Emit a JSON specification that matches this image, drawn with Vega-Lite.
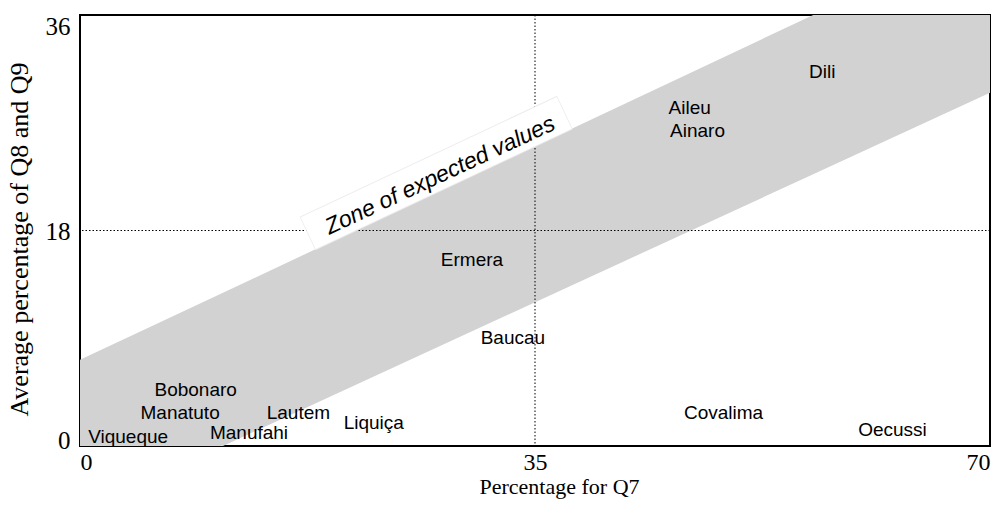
{
  "$schema": "https://vega.github.io/schema/vega-lite/v6.json",
  "autosize": "none",
  "width": 910,
  "height": 431,
  "padding": {"left": 80, "top": 15, "right": 7, "bottom": 63},
  "background": "white",
  "config": {
    "view": {"stroke": "black", "strokeWidth": 2},
    "axis": {"grid": false, "ticks": false, "domain": false, "labelFont": "Liberation Serif", "titleFont": "Liberation Serif", "labelColor": "black", "titleColor": "black", "titleFontWeight": "normal"}
  },
  "layer": [
    {
      "data": {"values": [
        {"x": 0, "lo": 0, "hi": 7.2},
        {"x": 11, "lo": 0, "hi": 12.8},
        {"x": 56.4, "lo": 22.7, "hi": 36},
        {"x": 70, "lo": 29.5, "hi": 36}
      ]},
      "mark": {"type": "area", "fill": "#d2d2d2", "opacity": 1},
      "encoding": {
        "x": {"field": "x", "type": "quantitative", "scale": {"domain": [0, 70], "nice": false, "zero": false},
          "axis": {"values": [0, 35, 70], "labelFlush": true, "labelFontSize": 24, "labelPadding": 4, "title": "Percentage for Q7", "titleFontSize": 22, "titleBaseline": "alphabetic", "titleX": 479, "titleY": 47, "titleAlign": "center"}},
        "y": {"field": "hi", "type": "quantitative", "scale": {"domain": [0, 36], "nice": false, "zero": false},
          "axis": {"values": [0, 18, 36], "labelFlush": false, "labelFontSize": 25, "labelPadding": 10, "labelBaseline": "alphabetic",
            "labelOffset": {"condition": [{"test": "datum.value == 36", "value": 19}, {"test": "datum.value == 0", "value": 2}], "value": 8.5},
            "title": "Average percentage of Q8 and Q9", "titleFontSize": 26, "titleBaseline": "alphabetic", "titleAngle": 270, "titleX": -53, "titleY": 224, "titleAlign": "center"}},
        "y2": {"field": "lo"}
      }
    },
    {
      "data": {"values": [{"v": 35}]},
      "mark": {"type": "rule", "stroke": "black", "strokeWidth": 1, "strokeDash": [1.5, 2]},
      "encoding": {"x": {"field": "v", "type": "quantitative"}}
    },
    {
      "data": {"values": [{"v": 18}]},
      "mark": {"type": "rule", "stroke": "black", "strokeWidth": 1, "strokeDash": [1.5, 2]},
      "encoding": {"y": {"field": "v", "type": "quantitative"}}
    },
    {
      "data": {"values": [{"x": 17.5, "y": 17.75}, {"x": 37.3, "y": 27.85}]},
      "mark": {"type": "line", "stroke": "#ececec", "strokeWidth": 37, "strokeCap": "butt"},
      "encoding": {"x": {"field": "x", "type": "quantitative"}, "y": {"field": "y", "type": "quantitative"}}
    },
    {
      "data": {"values": [{"x": 17.55, "y": 17.78}, {"x": 37.25, "y": 27.82}]},
      "mark": {"type": "line", "stroke": "white", "strokeWidth": 35, "strokeCap": "butt"},
      "encoding": {"x": {"field": "x", "type": "quantitative"}, "y": {"field": "y", "type": "quantitative"}}
    },
    {
      "data": {"values": [{"x": 27.7, "y": 22.6, "t": "Zone of expected values"}]},
      "mark": {"type": "text", "font": "Liberation Sans", "fontSize": 23, "fontStyle": "italic", "angle": -25, "align": "center", "baseline": "middle", "color": "black"},
      "encoding": {"x": {"field": "x", "type": "quantitative"}, "y": {"field": "y", "type": "quantitative"}, "text": {"field": "t"}}
    },
    {
      "data": {"values": [
        {"district": "Dili", "q7": 57.1, "q89": 31.2},
        {"district": "Aileu", "q7": 46.9, "q89": 28.2},
        {"district": "Ainaro", "q7": 47.5, "q89": 26.3},
        {"district": "Ermera", "q7": 30.15, "q89": 15.5},
        {"district": "Baucau", "q7": 33.3, "q89": 9.0},
        {"district": "Covalima", "q7": 49.5, "q89": 2.75},
        {"district": "Oecussi", "q7": 62.5, "q89": 1.35},
        {"district": "Liquiça", "q7": 22.6, "q89": 1.9},
        {"district": "Lautem", "q7": 16.8, "q89": 2.75},
        {"district": "Manufahi", "q7": 13.0, "q89": 1.1},
        {"district": "Manatuto", "q7": 7.7, "q89": 2.75},
        {"district": "Bobonaro", "q7": 8.9, "q89": 4.7},
        {"district": "Viqueque", "q7": 3.7, "q89": 0.75}
      ]},
      "mark": {"type": "text", "font": "Liberation Sans", "fontSize": 19, "align": "center", "baseline": "middle", "color": "black"},
      "encoding": {"x": {"field": "q7", "type": "quantitative"}, "y": {"field": "q89", "type": "quantitative"}, "text": {"field": "district"}}
    }
  ]
}
